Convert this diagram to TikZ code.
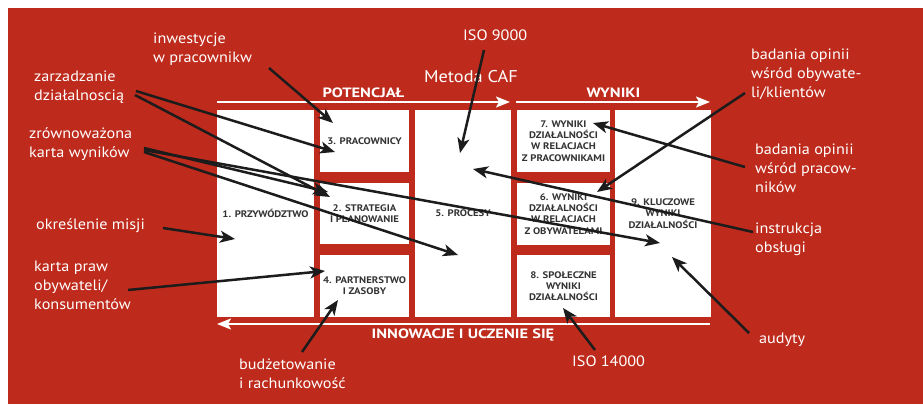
\documentclass[tikz,border=0pt]{standalone}
\usepackage{fontspec}
\setmainfont{PT Sans}[FakeStretch=1.08]
\newfontfamily\boxfont{PT Sans}[FakeStretch=1.13]
\newfontfamily\headfont{PT Sans}[FakeStretch=1.22]
\usetikzlibrary{arrows.meta}
\definecolor{cafred}{RGB}{190,42,27}
\definecolor{boxtext}{RGB}{51,51,51}
\definecolor{pointer}{RGB}{28,28,28}

\begin{document}
\begin{tikzpicture}[x=1pt,y=-1pt,
    cafbox/.style={fill=white,inner sep=0pt,align=center,text=boxtext,
        font=\boxfont\fontsize{9.5}{11.2}\selectfont\bfseries},
    note/.style={text=white,anchor=west,inner sep=0pt,align=left,
        font=\fontsize{15}{19}\selectfont},
    head/.style={text=white,anchor=base,inner sep=0pt,
        font=\headfont\fontsize{13.5}{15}\selectfont\bfseries},
    flow/.style={draw=white,line width=2pt,
        -{Stealth[length=14pt,width=11pt,inset=3pt]}},
    hint/.style={draw=pointer,line width=2.5pt,
        -{Stealth[length=15pt,width=12pt,inset=4pt]}}]
    \useasboundingbox (0,0) rectangle (923,404);
    \fill[cafred] (8,8) rectangle (923,404);

    % the nine CAF criteria
    \foreach \n/\x/\y/\w/\h/\t in {
        1/265.5/213.5/97/207/1. PRZYWÓDZTWO,
        3/364.5/141/89/62/3. PRACOWNICY,
        2/364.5/213.5/89/61/2. STRATEGIA\\I PLANOWANIE,
        4/364.5/286/89/62/4. PARTNERSTWO\\I ZASOBY,
        5/463/213.5/96/207/5. PROCESY,
        7/563.5/141/93/62/7. WYNIKI\\DZIAŁALNOŚCI\\W RELACJACH\\Z PRACOWNIKAMI,
        6/563.5/214/93/62/6. WYNIKI\\DZIAŁALNOŚCI\\W RELACJACH\\Z OBYWATELAMI,
        8/563.5/286/93/62/8. SPOŁECZNE\\WYNIKI\\DZIAŁALNOŚCI,
        9/663/213.5/96/207/9. KLUCZOWE\\WYNIKI\\DZIAŁALNOŚCI}{
        \node[cafbox,minimum width=\w pt,minimum height=\h pt] (b\n) at (\x,\y) {\t};
    }

    % frame arrows
    \coordinate (potA) at (217,102);
    \coordinate (potB) at (510,102);
    \coordinate (wynA) at (516,102);
    \coordinate (wynB) at (710,102);
    \coordinate (innA) at (710,324);
    \coordinate (innB) at (217,324);
    \draw[flow] (potA) -- (potB);
    \draw[flow] (wynA) -- (wynB);
    \draw[flow] (innA) -- (innB);
    \node[head] (pot) at (363.5,97) {POTENCJAŁ};
    \node[head] (wyn) at (613.5,97) {WYNIKI};
    \node[head] (inn) at (463,338) {INNOWACJE I UCZENIE SIĘ};
    \node[text=white,anchor=base,inner sep=0pt,font=\fontsize{17}{20}\selectfont]
        (caf) at (471,82) {Metoda CAF};

    % tools around the model
    \node[note] (invest) at (153,49) {inwestycje\\w pracownikw};
    \node[note] (zarz) at (34,87.5) {zarzadzanie\\działalnoscią};
    \node[note] (bsc) at (29,144) {zrównoważona\\karta wyników};
    \node[note] (misja) at (36,226) {określenie misji};
    \node[note] (karta) at (34,285.5) {karta praw\\obywateli/\\konsumentów};
    \node[note] (budzet) at (239,374) {budżetowanie\\i rachunkowość};
    \node[note] (iso9) at (463,35) {ISO 9000};
    \node[note] (obyw) at (751,74) {badania opinii\\wśród obywate-\\li/klientów};
    \node[note] (prac) at (755,168) {badania opinii\\wśród pracow-\\ników};
    \node[note] (instr) at (755,239) {instrukcja\\obsługi};
    \node[note] (audyt) at (759,340) {audyty};
    \node[note] (iso14) at (572,361) {ISO 14000};

    % pointers from the tools to the criteria
    \foreach \i/\sx/\sy/\tx/\ty in {
        1/269/68/333/123, 2/136/91/335/152, 3/135/95/330/197,
        4/144/148/328/192, 5/144/152/458/255, 6/144/150/660/243,
        7/484/50/460/153, 8/163/228/235/239, 9/128/290/325/271,
        10/302/352/338/300, 11/745/93/597/192, 12/745/167/593/123,
        13/753/232/473/169, 14/749/333/672/257, 15/595/350/563/308}{
        \coordinate (from\i) at (\sx,\sy);
        \coordinate (to\i) at (\tx,\ty);
        \draw[hint] (from\i) -- (to\i);
    }
\end{tikzpicture}
\end{document}
